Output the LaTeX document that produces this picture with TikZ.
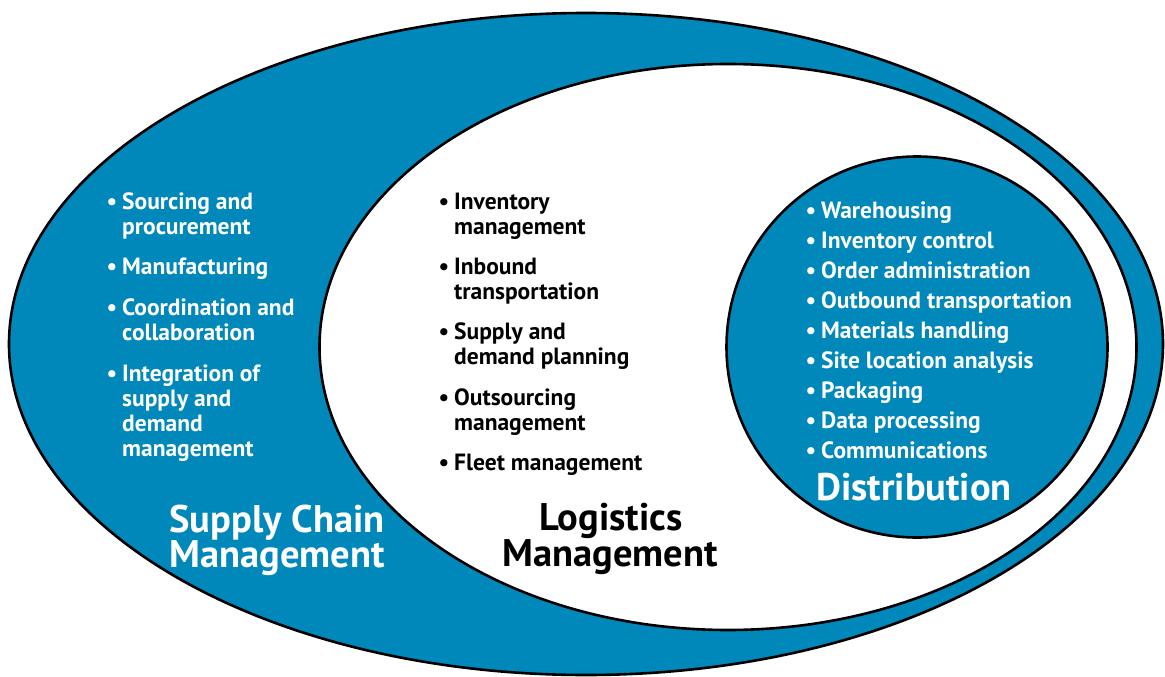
\documentclass[tikz,border=0pt]{standalone}
\usepackage{fontspec}
\setmainfont{PT Sans}
\usetikzlibrary{shapes.geometric}
\definecolor{scmblue}{RGB}{0,136,187}
\tikzset{
  ring/.style={draw=black, line width=2.6pt},
  itm/.style={anchor=base west, inner sep=0pt, font=\fontsize{23.5}{27}\selectfont\bfseries},
  witm/.style={itm, text=white},
  bitm/.style={itm, text=black},
  ttl/.style={anchor=base, inner sep=0pt, font=\fontsize{38.5}{42}\selectfont\bfseries},
}
\newcommand{\bul}{\llap{\textbullet\hspace{5pt}}}
\begin{document}
\begin{tikzpicture}[x=1pt,y=-1pt]
\useasboundingbox (0,0) rectangle (1165,677);
% shapes
\node[ring, fill=scmblue, ellipse, minimum width=1154pt, minimum height=662pt, inner sep=0pt] (scm) at (586,344) {};
\node[ring, fill=white, ellipse, minimum width=817pt, minimum height=566pt, inner sep=0pt] (lm) at (728,347) {};
\node[ring, fill=scmblue, circle, minimum size=381pt, inner sep=0pt] (dist) at (917,347) {};
% Supply chain management items
\node[witm] (s1a) at (122,209) {\bul Sourcing and};
\node[witm] (s1b) at (122,234) {procurement};
\node[witm] (s2) at (122,274) {\bul Manufacturing};
\node[witm] (s3a) at (122,315) {\bul Coordination and};
\node[witm] (s3b) at (122,340) {collaboration};
\node[witm] (s4a) at (122,381) {\bul Integration of};
\node[witm] (s4b) at (122,406) {supply and};
\node[witm] (s4c) at (122,431) {demand};
\node[witm] (s4d) at (122,456) {management};
\node[ttl, text=white] (st1) at (277,532) {Supply Chain};
\node[ttl, text=white] (st2) at (277,567) {Management};
% Logistics management items
\node[bitm] (l1a) at (454,209) {\bul Inventory};
\node[bitm] (l1b) at (454,234) {management};
\node[bitm] (l2a) at (454,274) {\bul Inbound};
\node[bitm] (l2b) at (454,299) {transportation};
\node[bitm] (l3a) at (454,339) {\bul Supply and};
\node[bitm] (l3b) at (454,364) {demand planning};
\node[bitm] (l4a) at (454,405) {\bul Outsourcing};
\node[bitm] (l4b) at (454,430) {management};
\node[bitm] (l5) at (454,470) {\bul Fleet management};
\node[ttl, text=black] (lt1) at (611,530) {Logistics};
\node[ttl, text=black] (lt2) at (610,566) {Management};
% Distribution items
\node[witm] (d1) at (821,218) {\bul Warehousing};
\node[witm] (d2) at (821,248) {\bul Inventory control};
\node[witm] (d3) at (821,278) {\bul Order administration};
\node[witm] (d4) at (821,308) {\bul Outbound transportation};
\node[witm] (d5) at (821,338) {\bul Materials handling};
\node[witm] (d6) at (821,368) {\bul Site location analysis};
\node[witm] (d7) at (821,398) {\bul Packaging};
\node[witm] (d8) at (821,428) {\bul Data processing};
\node[witm] (d9) at (821,458) {\bul Communications};
\node[ttl, text=white] (dt) at (914,500) {Distribution};
\end{tikzpicture}
\end{document}
